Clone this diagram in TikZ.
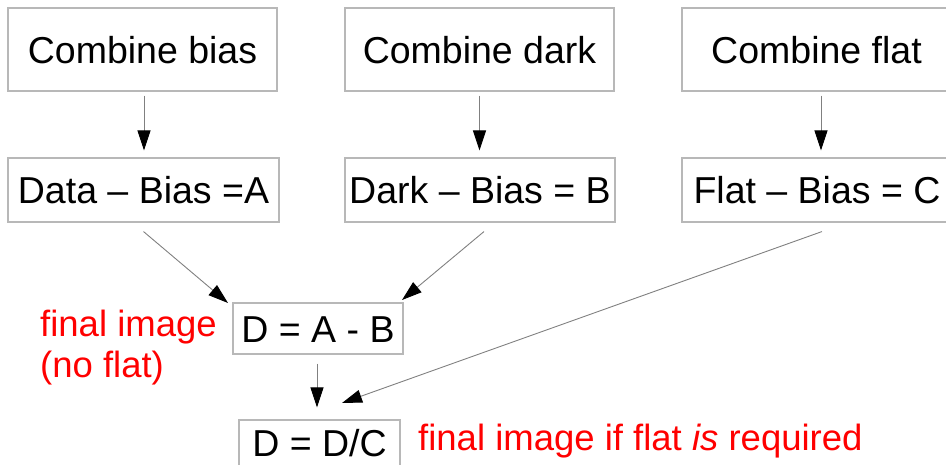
\documentclass[tikz,border=0pt]{standalone}
\usepackage{fontspec}
\setmainfont{Liberation Sans}
\usetikzlibrary{arrows.meta}
\definecolor{boxgray}{HTML}{B8B8B8}
\definecolor{linegray}{HTML}{808080}
\definecolor{notered}{HTML}{FF0000}
\begin{document}
\begin{tikzpicture}[x=1pt,y=-1pt,
  box/.style={draw=boxgray, line width=1.1pt, inner sep=0pt, text height=27pt, text depth=0pt,
    font=\fontsize{37.5}{45}\selectfont},
  conn/.style={draw=linegray, line width=0.9pt, -{Triangle[length=20pt,width=13pt,color=black]}},
  note/.style={text=notered, inner sep=0pt, anchor=base west, font=\fontsize{36.5}{41}\selectfont}]
\useasboundingbox (0,0) rectangle (946,464);
\clip (0,0) rectangle (946,464);
% top row
\node[box, minimum width=269pt, minimum height=83pt] (cb) at (142.5,49.5) {Combine bias};
\node[box, minimum width=269pt, minimum height=83pt] (cd) at (479.5,49.5) {Combine dark};
\node[box, minimum width=269pt, minimum height=83pt] (cf) at (816.5,49.5) {Combine flat};
% second row
\node[box, minimum width=271pt, minimum height=64pt] (db) at (143.5,190) {Data -- Bias =A};
\node[box, minimum width=270pt, minimum height=64pt] (kb) at (480,190) {Dark -- Bias = B};
\node[box, minimum width=270pt, minimum height=64pt] (fb) at (817,190) {Flat -- Bias = C};
% results
\node[box, minimum width=170pt, minimum height=51pt] (dab) at (318,328.5) {D = A - B};
\node[box, minimum width=161pt, minimum height=46pt] (ddc) at (319.5,443) {D = D/C};
% notes
\node[note] (n1) at (40,336) {final image};
\node[note] (n2) at (40,377) {(no flat)};
\node[note] (n3) at (418,450) {final image if flat \textit{is} required};
% connectors
\draw[conn, shorten <=4pt, shorten >=7pt] ([xshift=1.5pt]cb.south) -- ([xshift=1.5pt]cb.south |- db.north);
\draw[conn, shorten <=4pt, shorten >=7pt] (cd.south) -- (cd.south |- kb.north);
\draw[conn, shorten <=4pt, shorten >=7pt] ([xshift=4.5pt]cf.south) -- ([xshift=4.5pt]cf.south |- fb.north);
\coordinate (tA) at (228,303);
\coordinate (tB) at (402,300);
\coordinate (tC) at (342,403);
\draw[conn] ([yshift=-9pt]db.south) -- (tA);
\draw[conn] ([xshift=4pt,yshift=-9pt]kb.south) -- (tB);
\draw[conn] ([xshift=5pt,yshift=-9pt]fb.south) -- (tC);
\draw[conn, shorten <=9pt, shorten >=12pt] ([xshift=-1pt]dab.south) -- ([xshift=-1pt]dab.south |- ddc.north);
\end{tikzpicture}
\end{document}
